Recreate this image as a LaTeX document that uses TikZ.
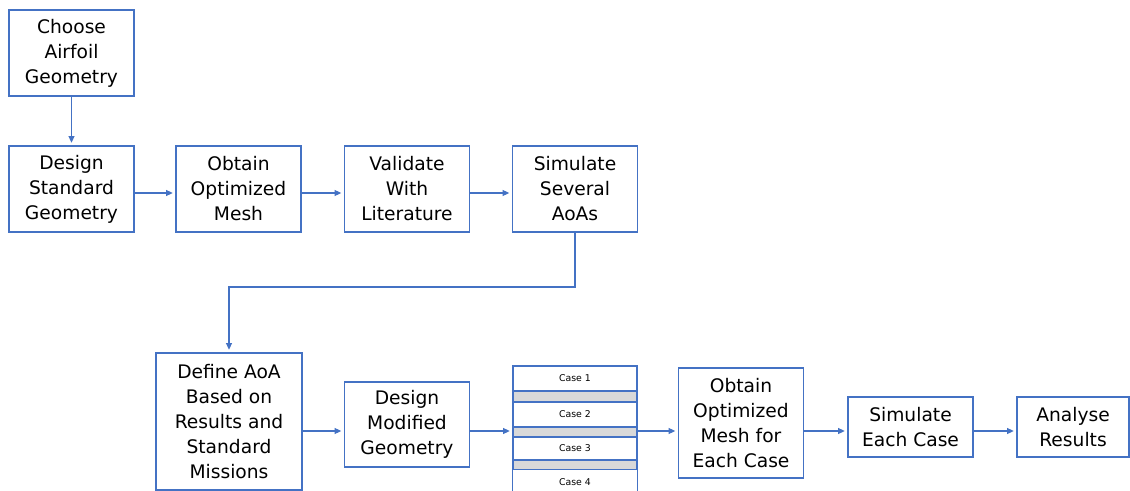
\documentclass[tikz,border=0pt]{standalone}
\usepackage{fontspec}
\setmainfont{DejaVu Sans}
\usetikzlibrary{arrows.meta}
\definecolor{boxblue}{HTML}{4472C4}
\definecolor{bargray}{HTML}{D9D9D9}
\begin{document}
\begin{tikzpicture}[x=0.75pt, y=-0.75pt,
	stepbox/.style={draw=boxblue, line width=0.9pt, fill=white, align=center,
		minimum width=93.75pt, minimum height=64.5pt, inner sep=0pt,
		font=\fontsize{14}{18.75}\selectfont},
	casebox/.style={draw=boxblue, line width=0.9pt, fill=white, inner sep=0pt,
		minimum width=93pt, minimum height=18.75pt, font=\fontsize{7}{8}\selectfont},
	gapbar/.style={draw=boxblue, line width=0.9pt, fill=bargray, inner sep=0pt,
		minimum width=93pt, minimum height=7.5pt},
	arr/.style={draw=boxblue, line width=0.8pt, shorten >=2pt,
		-{Triangle[length=5pt,width=4.5pt]}}]
	\useasboundingbox (0,0) rectangle (1130,491);
	
	% TOP ROW
	\node[stepbox] (choose) at (71.5, 53) {Choose\\Airfoil\\Geometry};
	\node[stepbox] (stdgeo) at (71.5, 189) {Design\\Standard\\Geometry};
	\node[stepbox] (optmesh) at (238.5, 189) {Obtain\\Optimized\\Mesh};
	\node[stepbox] (validate) at (407, 189) {Validate\\With\\Literature};
	\node[stepbox] (simaoa) at (575, 189) {Simulate\\Several\\AoAs};
	
	% BOTTOM ROW
	\node[stepbox, minimum width=109.5pt, minimum height=102.75pt] (defaoa) at (229, 421.5)
	{Define AoA\\Based on\\Results and\\Standard\\Missions};
	\node[stepbox, minimum height=63.75pt] (modgeo) at (407, 424.5) {Design\\Modified\\Geometry};
	
	% CASE STACK
	\node[casebox] (case1) at (575, 378.5) {Case 1};
	\node[gapbar] (bar1) at (575, 396.5) {};
	\node[casebox] (case2) at (575, 414.5) {Case 2};
	\node[gapbar] (bar2) at (575, 432) {};
	\node[casebox, minimum height=17.25pt] (case3) at (575, 448.5) {Case 3};
	\node[gapbar] (bar3) at (575, 465) {};
	\node[casebox, draw=none] (case4) at (575, 482.5) {Case 4};
	\path[draw=boxblue, line width=0.9pt] (case4.north west)--(case4.south west);
	\path[draw=boxblue, line width=0.9pt] (case4.north east)--(case4.south east);
	
	\node[stepbox, minimum height=82.5pt] (meshcase) at (741, 423) {Obtain\\Optimized\\Mesh for\\Each Case};
	\node[stepbox, minimum height=45pt] (simcase) at (910.5, 427) {Simulate\\Each Case};
	\node[stepbox, minimum width=84pt, minimum height=45pt] (analyse) at (1073, 427) {Analyse\\Results};
	
	% DRAW ARROWS
	\coordinate (toprow) at (0, 193);
	\coordinate (lowrow) at (0, 431);
	\coordinate (turn) at (575, 287);
	\path[arr] (choose)--(stdgeo);
	\path[arr] (stdgeo.east |- toprow)--(optmesh.west |- toprow);
	\path[arr] (optmesh.east |- toprow)--(validate.west |- toprow);
	\path[arr] (validate.east |- toprow)--(simaoa.west |- toprow);
	\path[arr] (simaoa.south)--(turn)-|(defaoa.north);
	\path[arr] (defaoa.east |- lowrow)--(modgeo.west |- lowrow);
	\path[arr] (modgeo.east |- lowrow)--(bar2.west |- lowrow);
	\path[arr] (bar2.east |- lowrow)--(meshcase.west |- lowrow);
	\path[arr] (meshcase.east |- lowrow)--(simcase.west |- lowrow);
	\path[arr] (simcase.east |- lowrow)--(analyse.west |- lowrow);
\end{tikzpicture}
\end{document}
